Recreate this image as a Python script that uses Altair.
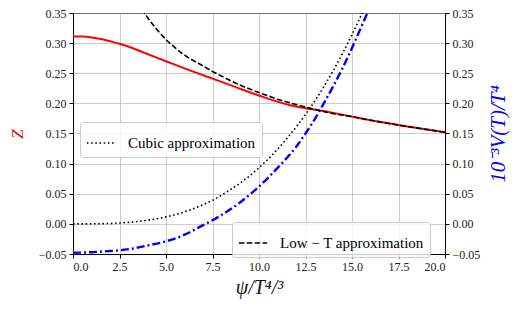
import altair as alt
import pandas as pd

# ---- data ----
psi_z = [0, 0.5, 1, 1.5, 2, 2.5, 3, 4, 5, 6, 7.5, 8.75, 10, 11.67, 12.5, 13.3, 15, 16, 17.5, 20]
z_vals = [0.311, 0.3108, 0.3095, 0.307, 0.303, 0.299, 0.294, 0.282, 0.270, 0.258, 0.241, 0.227,
          0.213, 0.197, 0.192, 0.188, 0.178, 0.172, 0.164, 0.152]

psi_lowT = [3.7, 4, 4.5, 5, 5.5, 6, 7, 7.5, 8, 9, 10, 11, 12, 12.5, 13, 14, 15, 16, 17.5, 20]
lowT_vals = [0.357, 0.343, 0.323, 0.306, 0.292, 0.280, 0.262, 0.253, 0.245, 0.230, 0.218, 0.207,
             0.198, 0.194, 0.190, 0.183, 0.178, 0.172, 0.164, 0.152]

psi_cubic = [0, 1, 2, 2.5, 3, 4, 5, 6, 7, 7.5, 8, 9, 10, 11, 12, 13, 14, 15, 15.7]
cubic_vals = [0.0, 0.0001, 0.0007, 0.0014, 0.0025, 0.006, 0.0116, 0.020, 0.032, 0.039, 0.048,
              0.068, 0.093, 0.124, 0.161, 0.204, 0.255, 0.314, 0.360]

psi_v = [0, 1, 2, 2.5, 3, 4, 5, 6, 7, 7.5, 8, 8.5, 9, 9.6, 10, 11, 12, 12.5, 13, 13.5, 14, 14.5,
         15, 15.5, 16]
v_vals = [-0.048, -0.047, -0.045, -0.044, -0.042, -0.036, -0.029, -0.018, -0.002, 0.006, 0.015,
          0.025, 0.036, 0.051, 0.062, 0.093, 0.128, 0.150, 0.174, 0.201, 0.229, 0.259, 0.292,
          0.327, 0.362]

x_ticks = [0, 2.5, 5, 7.5, 10, 12.5, 15, 17.5, 20]
y_ticks = [-0.05, 0.0, 0.05, 0.10, 0.15, 0.20, 0.25, 0.30, 0.35]

SERIF = "Liberation Serif"

df_z = pd.DataFrame({"psi": psi_z, "val": z_vals})
df_lowT = pd.DataFrame({"psi": psi_lowT, "val": lowT_vals, "lab": "Low − T approximation"})
df_cubic = pd.DataFrame({"psi": psi_cubic, "val": cubic_vals, "lab": "Cubic approximation"})
df_v = pd.DataFrame({"psi": psi_v, "val": v_vals})

xscale = alt.Scale(domain=[0, 20], nice=False, zero=False)
yscale = alt.Scale(domain=[-0.05, 0.35], nice=False, zero=False)

xenc = alt.X("psi:Q", scale=xscale,
             axis=alt.Axis(values=x_ticks, format=".1f", title="ψ/T⁴/³",
                           titleFontSize=20, titleFontStyle="italic", titleFontWeight="normal",
                           titlePadding=5, grid=True, labelFont=SERIF, titleFont=SERIF))

left_axis = alt.Axis(values=y_ticks, format=".2f", title="Z", titleColor="red",
                     titleFontSize=17, titleFontStyle="italic", titleFontWeight="normal",
                     titlePadding=12, grid=True, orient="left", labelFont=SERIF, titleFont=SERIF)

red = alt.Chart(df_z).mark_line(color="red", strokeWidth=2, clip=True, interpolate="monotone").encode(
    x=xenc, y=alt.Y("val:Q", scale=yscale, axis=left_axis))

legend_common = dict(orient="none", title=None, symbolType="stroke", symbolSize=800,
                     symbolStrokeWidth=1.6, symbolStrokeColor="black",
                     labelFont=SERIF, labelFontSize=15, labelColor="black",
                     fillColor="rgba(255,255,255,0.8)", strokeColor="#cccccc",
                     cornerRadius=3, padding=6, labelOffset=12)

dashed = alt.Chart(df_lowT).mark_line(color="black", strokeWidth=1.6, clip=True,
                                      interpolate="monotone").encode(
    x=xenc, y=alt.Y("val:Q", scale=yscale, axis=left_axis),
    strokeDash=alt.StrokeDash("lab:N",
                              scale=alt.Scale(domain=["Low − T approximation"], range=[[5.5, 2.4]]),
                              legend=alt.Legend(legendX=159, legendY=209, **legend_common)))

dotted = alt.Chart(df_cubic).mark_line(color="black", strokeWidth=1.6, clip=True,
                                       interpolate="monotone").encode(
    x=xenc, y=alt.Y("val:Q", scale=yscale, axis=left_axis),
    strokeDash=alt.StrokeDash("lab:N",
                              scale=alt.Scale(domain=["Cubic approximation"], range=[[1.6, 2.6]]),
                              legend=alt.Legend(legendX=7, legendY=109, **legend_common)))

left = alt.layer(red, dashed, dotted).resolve_scale(strokeDash="independent").resolve_legend(
    strokeDash="independent")

right_axis = alt.Axis(values=y_ticks, format=".2f", title="10⁻³V(T)/T⁴", titleColor="blue",
                      titleFontSize=21, titleFontStyle="italic", titleFontWeight="normal",
                      titleAngle=270, titlePadding=29, grid=False, orient="right",
                      labelFont=SERIF, titleFont=SERIF)

blue = alt.Chart(df_v).mark_line(color="blue", strokeWidth=2.4, clip=True, strokeDash=[8, 3, 2, 3],
                                 interpolate="monotone").encode(
    x=xenc, y=alt.Y("val:Q", scale=yscale, axis=right_axis))

chart = alt.layer(left, blue).resolve_scale(y="independent").properties(
    width=372, height=241,
    autosize=alt.AutoSizeParams(type="none"),
    padding={"left": 65, "top": 5, "right": 69, "bottom": 48},
    background="white",
).configure(font=SERIF).configure_view(stroke="black", strokeWidth=1).configure_axis(
    labelFontSize=12, labelColor="#222222",
    domainColor="black", tickColor="black", tickSize=4, labelPadding=3,
    gridColor="#b0b0b0", gridWidth=0.8, gridOpacity=0.8, titleColor="#111111",
)

chart.save("out.html", embed_options={"renderer": "svg", "actions": False})
